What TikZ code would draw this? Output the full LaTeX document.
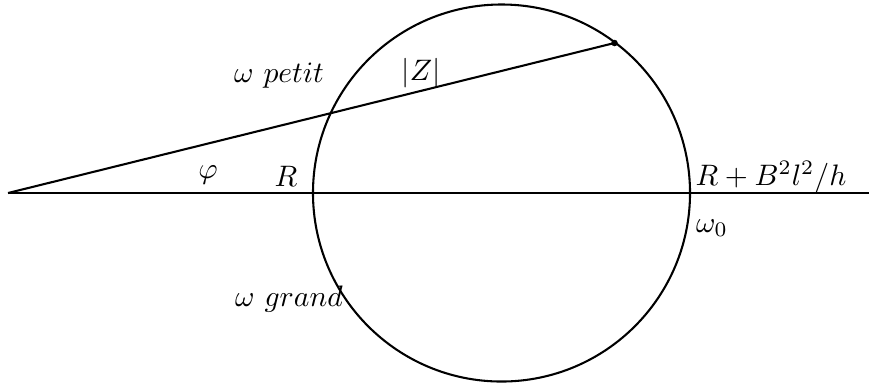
\documentclass[tikz,border=0pt]{standalone}
\begin{document}
\begin{tikzpicture}[x=0.3378pt,y=-0.3378pt,
  ln/.style={line width=0.7pt},
  lbl/.style={anchor=base,inner sep=0pt}]
\useasboundingbox (0,0) rectangle (869,382);
\coordinate (O) at (8,193);
\coordinate (E) at (869,193);
\coordinate (C) at (501.5,193);
\coordinate (P) at (614.5,43);
\draw[ln] (O) -- (E);
\draw[ln] (C) circle[radius=63.68pt];
\draw[ln] (O) -- (P);
\fill (P) circle[radius=1.1pt];
\node[lbl] (petit) at (279,82) {$\omega\ petit$};
\node[lbl] (Z) at (421,80.5) {$|Z|$};
\node[lbl] (phi) at (208,178) {$\varphi$};
\node[lbl] (R) at (286,186) {$R$};
\node[lbl] (RB) at (771,185.5) {$R+B^2l^2/h$};
\node[lbl] (w0) at (712,232) {$\omega_0$};
\node[lbl] (grand) at (289,306.5) {$\omega\ grand$};
\end{tikzpicture}
\end{document}
